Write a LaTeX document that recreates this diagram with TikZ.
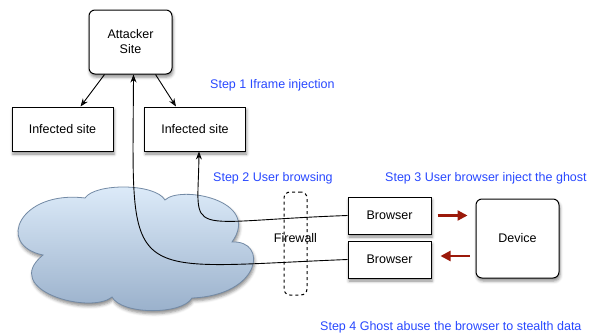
\documentclass[tikz,border=0pt]{standalone}
\usepackage{fontspec}
\setmainfont{Liberation Sans}
\usetikzlibrary{arrows.meta,shadows.blur}
\definecolor{stepblue}{RGB}{40,72,255}
\definecolor{ghostred}{RGB}{155,25,10}
\definecolor{cloudtop}{RGB}{222,236,250}
\definecolor{cloudbot}{RGB}{152,175,202}
\definecolor{cloudline}{RGB}{115,138,165}

\begin{document}
\begin{tikzpicture}[x=1pt,y=-1pt, inner sep=0pt, >={Stealth[length=8pt,width=6pt]},
  font=\fontsize{12.5}{15}\selectfont,
  shade/.style={blur shadow={shadow xshift=1pt,shadow yshift=-3pt,shadow blur radius=3pt,shadow opacity=45}},
  box/.style={draw=black,line width=1pt,fill=white,shade},
  steptext/.style={text=stepblue,anchor=west},
  redarrow/.style={->,ghostred,line width=2.2pt,>={Triangle[length=10pt,width=10pt]}}]
\useasboundingbox (0,0) rectangle (594,332);
% the internet cloud
\path[draw=cloudline,line width=0.8pt,top color=cloudtop,bottom color=cloudbot,shade]
  (43,255) .. controls (-5,245) and (20,190) .. (85,198)
  .. controls (95,183) and (155,183) .. (165,200)
  .. controls (180,185) and (262,200) .. (232,242)
  .. controls (268,240) and (262,295) .. (192,298)
  .. controls (182,315) and (122,315) .. (112,297)
  .. controls (90,315) and (0,290) .. cycle;
\node (att) at (130.5,42) [box,rounded corners=6pt,minimum width=83pt,minimum height=64pt,align=center] {Attacker\\Site};
\node (inf1) at (62.5,129) [box,minimum width=101pt,minimum height=44pt] {Infected site};
\node (inf2) at (195,129) [box,minimum width=101pt,minimum height=44pt] {Infected site};
\node (fw) at (295.5,243.5) [draw=black,dashed,line width=1pt,rounded corners=6pt,minimum width=23pt,minimum height=103pt] {};
\node (fwl) at (295.5,238) {Firewall};
\node (b1) at (389.5,215.5) [box,minimum width=83pt,minimum height=37pt] {Browser};
\node (b2) at (389.5,259.5) [box,minimum width=83pt,minimum height=37pt] {Browser};
\node (dev) at (517.5,238.5) [box,rounded corners=6pt,minimum width=83pt,minimum height=79pt] {Device};
\node (s1) at (210,85) [steptext] {Step 1 Iframe injection};
\node (s2) at (213,178) [steptext] {Step 2 User browsing};
\node (s3) at (385,178) [steptext] {Step 3 User browser inject the ghost};
\node (s4) at (320,327) [steptext] {Step 4 Ghost abuse the browser to stealth data};
% attacker spreads the iframe
\draw[->,line width=0.9pt] ([xshift=16pt]att.south west) -- ([xshift=18pt]inf1.north);
\draw[->,line width=0.9pt] ([xshift=-17pt]att.south east) -- ([xshift=-19pt]inf2.north);
% browsing through the firewall
\draw[->,line width=0.9pt] (b1.west) .. controls +(-168,6) and +(-1,88) .. ([xshift=4pt]inf2.south);
\draw[->,line width=0.9pt] (b2.west) .. controls +(-228,9) and +(-1,214) .. ([xshift=3pt]att.south);
% ghost in and out
\draw[redarrow] ([xshift=6pt]b1.east) -- ([xshift=-8pt]dev.west |- b1.east);
\draw[redarrow] ([xshift=-6pt,yshift=3.5pt]dev.west |- b2.east) -- ([xshift=9pt,yshift=3.5pt]b2.east);
\end{tikzpicture}
\end{document}
